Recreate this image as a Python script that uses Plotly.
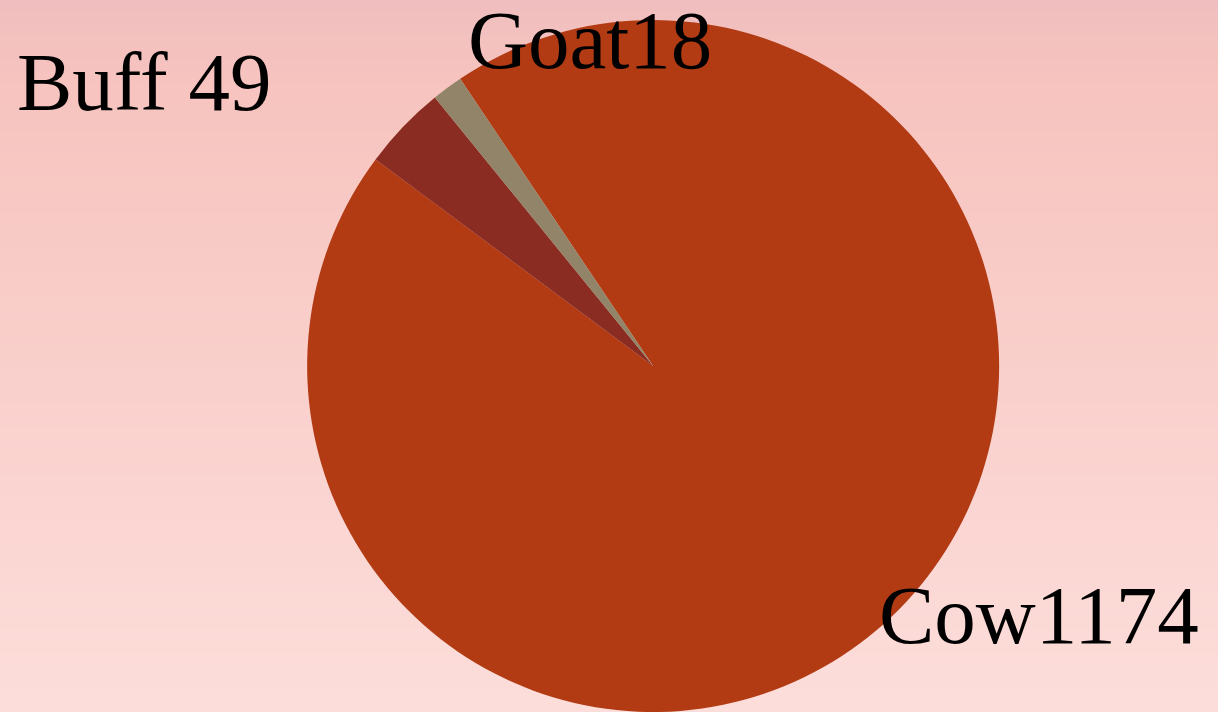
import plotly.graph_objects as go

labels = ["Cow", "Buff", "Goat"]
values = [1174, 49, 18]
colors = ["#B23B14", "#8A2C21", "#918468"]
label_text = ["Cow1174", "Buff 49", "Goat18"]

W, H = 1218, 712

fig = go.Figure()
fig.add_trace(go.Pie(
    labels=labels, values=values, sort=False, direction="clockwise",
    rotation=-33.9, textinfo="none", hoverinfo="label+value",
    marker=dict(colors=colors, line=dict(width=0)),
    domain=dict(x=[0.0725, 1.0], y=[0.0, 692 / H]),
    showlegend=False,
))

# background gradient
top = (240, 190, 190)
mid = (247, 196, 191)
bot = (252, 221, 218)
n = 60
shapes = []
for i in range(n):
    t = i / (n - 1)
    if t < 0.12:
        u = t / 0.12
        c = tuple(round(top[k] + (mid[k] - top[k]) * u) for k in range(3))
    else:
        u = (t - 0.12) / 0.88
        c = tuple(round(mid[k] + (bot[k] - mid[k]) * u) for k in range(3))
    y1 = 1 - i / n
    y0 = 1 - (i + 1) / n - 0.002
    shapes.append(dict(type="rect", xref="paper", yref="paper", x0=0, x1=1,
                       y0=max(y0, 0), y1=y1, fillcolor="rgb(%d,%d,%d)" % c,
                       line=dict(width=0), layer="below"))

font = dict(family="Liberation Serif", size=83, color="black")
# (left x px, baseline y px)
pos = {"Buff 49": (15, 112), "Goat18": (466, 70), "Cow1174": (877, 645)}
annotations = []
for txt in label_text:
    x, yb = pos[txt]
    ymid = yb - 0.365 * font["size"]
    annotations.append(dict(text=txt, xref="paper", yref="paper",
                            x=x / W, y=1 - ymid / H, xanchor="left", yanchor="middle",
                            showarrow=False, font=font))

fig.update_layout(
    width=W, height=H, margin=dict(l=0, r=0, t=0, b=0),
    paper_bgcolor="rgb(248,205,201)", plot_bgcolor="rgba(0,0,0,0)",
    shapes=shapes, annotations=annotations,
)
fig.write_html("out.html", config={"displayModeBar": False},
               post_script="document.body.style.margin='0';document.body.style.overflow='hidden';")
